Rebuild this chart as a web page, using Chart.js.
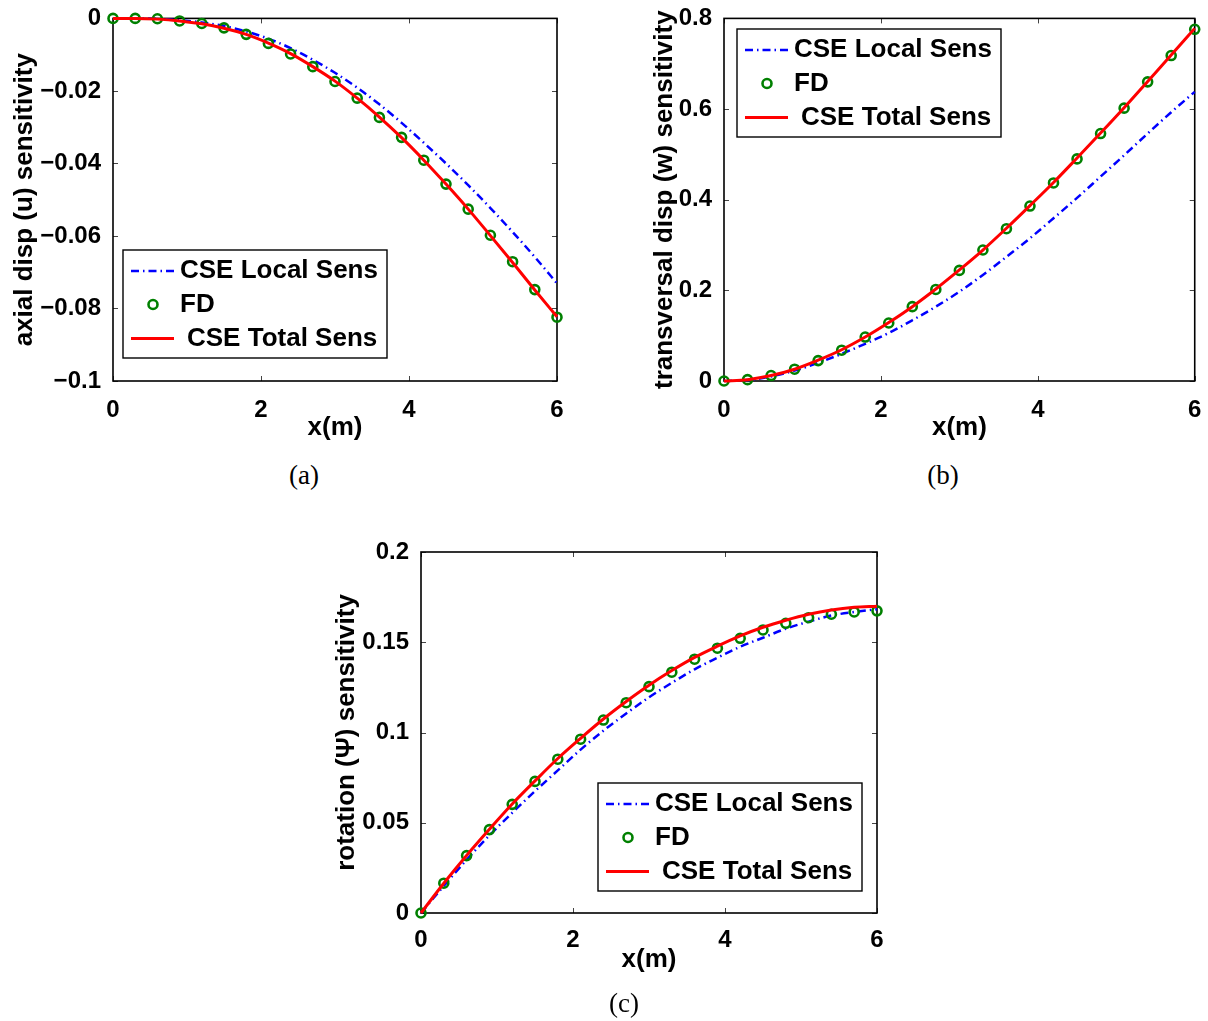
<!DOCTYPE html>
<html>
<head>
<meta charset="utf-8">
<script src="https://cdn.jsdelivr.net/npm/chart.js@4.4.1/dist/chart.umd.min.js"></script>
<style>
  body { margin:0; background:#fff; }
  #page { position:relative; width:1208px; height:1021px; overflow:hidden; }
  canvas { position:absolute; }
  .cap { position:absolute; font-family:"Liberation Serif","DejaVu Serif",serif; font-size:27px; line-height:30px; transform:translate(-50%,-50%); color:#000; }
</style>
</head>
<body>
<div id="page">
  <canvas id="chartA" width="600" height="450" style="left:0;top:0"></canvas>
  <canvas id="chartB" width="608" height="450" style="left:600px;top:0"></canvas>
  <canvas id="chartC" width="600" height="500" style="left:300px;top:520px"></canvas>
  <div class="cap" style="left:304px;top:475px">(a)</div>
  <div class="cap" style="left:943px;top:475px">(b)</div>
  <div class="cap" style="left:624px;top:1003px">(c)</div>
</div>
<script>
// x positions along the beam (m)
const xs = [0,0.3,0.6,0.9,1.2,1.5,1.8,2.1,2.4,2.7,3.0,3.3,3.6,3.9,4.2,4.5,4.8,5.1,5.4,5.7,6.0];

// (a) axial disp (u)
const localA = [0,0,-0.0001,-0.0005,-0.0011,-0.0021,-0.0036,-0.0056,-0.0082,-0.0114,-0.0150,-0.0191,-0.0237,-0.0288,-0.0343,-0.0400,-0.0460,-0.0523,-0.0589,-0.0658,-0.0731];
const fdA    = [0,0,-0.0001,-0.0007,-0.0014,-0.0026,-0.0044,-0.0069,-0.0098,-0.0133,-0.0174,-0.0220,-0.0273,-0.0328,-0.0391,-0.0457,-0.0526,-0.0598,-0.0671,-0.0748,-0.0824];
const totalA = [0,0,-0.0002,-0.0007,-0.0015,-0.0027,-0.0044,-0.0068,-0.0097,-0.0133,-0.0173,-0.0220,-0.0272,-0.0329,-0.0391,-0.0457,-0.0526,-0.0599,-0.0673,-0.0749,-0.0823];

// (b) transversal disp (w)
const localB = [0,0.002,0.010,0.023,0.040,0.060,0.082,0.106,0.134,0.164,0.197,0.234,0.274,0.315,0.359,0.404,0.451,0.498,0.546,0.593,0.638];
const fdB    = [0,0.003,0.012,0.026,0.045,0.068,0.097,0.128,0.164,0.202,0.244,0.289,0.336,0.386,0.437,0.490,0.546,0.602,0.660,0.718,0.776];
const totalB = [0,0.003,0.012,0.026,0.046,0.069,0.097,0.129,0.164,0.203,0.245,0.289,0.337,0.387,0.438,0.492,0.547,0.603,0.661,0.719,0.778];

// (c) rotation (Psi)
const localC = [0,0.0150,0.0295,0.0430,0.0555,0.0675,0.0790,0.0905,0.1010,0.1105,0.1195,0.1275,0.1350,0.1414,0.1475,0.1525,0.1575,0.1614,0.1648,0.1668,0.1683];
const fdC    = [0,0.0165,0.0318,0.0462,0.0602,0.0729,0.0852,0.0963,0.1069,0.1165,0.1254,0.1334,0.1406,0.1467,0.1522,0.1568,0.1605,0.1636,0.1655,0.1668,0.1674];
const totalC = [0,0.0165,0.0319,0.0464,0.0604,0.0732,0.0856,0.0968,0.1075,0.1172,0.1262,0.1343,0.1416,0.1478,0.1535,0.1583,0.1622,0.1655,0.1679,0.1694,0.1700];

// ticks
const xTicks = [0,2,4,6];
const xTickLabels = ['0','2','4','6'];
const yTicksA = [-0.1,-0.08,-0.06,-0.04,-0.02,0];
const yTickLabelsA = ['\u22120.1','\u22120.08','\u22120.06','\u22120.04','\u22120.02','0'];
const yTicksB = [0,0.2,0.4,0.6,0.8];
const yTickLabelsB = ['0','0.2','0.4','0.6','0.8'];
const yTicksC = [0,0.05,0.1,0.15,0.2];
const yTickLabelsC = ['0','0.05','0.1','0.15','0.2'];

const seriesNames = ['CSE Local Sens','FD','CSE Total Sens'];

const FONT = '"Liberation Sans", Arial, Helvetica, sans-serif';
Chart.defaults.font.family = FONT;
Chart.defaults.color = '#000';

// box around the axes + inward ticks on all four sides (MATLAB style)
const frame = {
  id: 'frame',
  beforeDatasetsDraw(chart){
    const {ctx, chartArea:a, scales:{x, y}} = chart;
    ctx.save();
    ctx.strokeStyle = '#444';
    ctx.lineWidth = 1;
    ctx.beginPath();
    x.ticks.forEach(t=>{
      const p = Math.round(x.getPixelForValue(t.value)) + 0.5;
      ctx.moveTo(p, a.bottom); ctx.lineTo(p, a.bottom-5);
      ctx.moveTo(p, a.top); ctx.lineTo(p, a.top+5);
    });
    y.ticks.forEach(t=>{
      const p = Math.round(y.getPixelForValue(t.value)) + 0.5;
      ctx.moveTo(a.left, p); ctx.lineTo(a.left+5, p);
      ctx.moveTo(a.right, p); ctx.lineTo(a.right-5, p);
    });
    ctx.stroke();
    ctx.strokeStyle = '#000';
    ctx.lineWidth = 1.6;
    ctx.strokeRect(a.left, a.top, a.right-a.left, a.bottom-a.top);
    ctx.restore();
  }
};

// MATLAB-like boxed legend
const boxLegend = {
  id: 'boxLegend',
  afterDraw(chart, args, o){
    const ctx = chart.ctx;
    const ds = chart.data.datasets;
    const w = 264, h = 108;
    ctx.save();
    ctx.fillStyle = '#fff';
    ctx.fillRect(o.x, o.y, w, h);
    ctx.strokeStyle = '#000';
    ctx.lineWidth = 1.4;
    ctx.strokeRect(o.x, o.y, w, h);
    const rows = [o.y+21, o.y+54.5, o.y+88.5];
    // local sens sample
    ctx.strokeStyle = ds[0].borderColor; ctx.lineWidth = ds[0].borderWidth;
    ctx.setLineDash(ds[0].borderDash);
    ctx.beginPath(); ctx.moveTo(o.x+8, rows[0]); ctx.lineTo(o.x+51, rows[0]); ctx.stroke();
    ctx.setLineDash([]);
    // FD marker
    ctx.strokeStyle = ds[1].borderColor; ctx.lineWidth = ds[1].pointBorderWidth;
    ctx.beginPath(); ctx.arc(o.x+30, rows[1], ds[1].pointRadius, 0, Math.PI*2); ctx.stroke();
    // total sens sample
    ctx.strokeStyle = ds[2].borderColor; ctx.lineWidth = ds[2].borderWidth;
    ctx.beginPath(); ctx.moveTo(o.x+8, rows[2]); ctx.lineTo(o.x+51, rows[2]); ctx.stroke();
    ctx.fillStyle = '#000';
    ctx.font = 'bold 26px ' + FONT;
    ctx.textBaseline = 'middle';
    ctx.textAlign = 'left';
    ctx.fillText(ds[0].label, o.x+57, rows[0]);
    ctx.fillText(ds[1].label, o.x+57, rows[1]);
    ctx.fillText(ds[2].label, o.x+64, rows[2]);
    ctx.restore();
  }
};

const pts = arr => xs.map((x,i)=>({x, y:arr[i]}));

function makeChart(id, c){
  const tickFont = {size:24, weight:'bold'};
  const titleFont = {size:26, weight:'bold', lineHeight:1.2};
  return new Chart(document.getElementById(id), {
    type:'line',
    data:{ datasets:[
      { label:seriesNames[0], data:pts(c.local), borderColor:'#0000ff', borderWidth:2.5,
        borderDash:[8,4,1.5,4], pointRadius:0, cubicInterpolationMode:'monotone', order:3, clip:false },
      { label:seriesNames[1], data:pts(c.fd), showLine:false, borderColor:'#008000',
        pointBorderColor:'#008000', pointBackgroundColor:'rgba(0,0,0,0)', pointRadius:4.5,
        pointBorderWidth:2.6, order:2, clip:false },
      { label:seriesNames[2], data:pts(c.total), borderColor:'#ff0000', borderWidth:3,
        pointRadius:0, cubicInterpolationMode:'monotone', order:1, clip:false }
    ]},
    options:{
      responsive:false, animation:false,
      layout:{ padding:{ left:0, top:c.T, right:c.W-c.R, bottom:0 } },
      plugins:{ legend:{display:false}, tooltip:{enabled:false}, boxLegend:c.legend },
      scales:{
        x:{ type:'linear', min:0, max:6,
          grid:{display:false}, border:{display:false},
          afterBuildTicks: s => { s.ticks = xTicks.map(v=>({value:v})); },
          ticks:{ font:tickFont, color:'#000', autoSkip:false, maxRotation:0,
            padding:c.xTickY - c.B - 14.4, callback:(v,i)=>xTickLabels[i] },
          title:{ display:true, text:'x(m)', font:titleFont, color:'#000',
            padding:{top:0, bottom:c.H - c.xTitleY - 15.6} },
          afterFit: s => { s.height = c.H - c.B; }
        },
        y:{ type:'linear', min:c.yTicks[0], max:c.yTicks[c.yTicks.length-1],
          grid:{display:false}, border:{display:false},
          afterBuildTicks: s => { s.ticks = c.yTicks.map(v=>({value:v})); },
          ticks:{ font:tickFont, color:'#000', autoSkip:false, padding:4,
            callback:(v,i)=>c.yLabels[i] },
          title:{ display:true, text:c.yTitle, font:titleFont, color:'#000',
            padding:{top:c.yTitleX - 15.6, bottom:0} },
          afterFit: s => { s.width = c.L; }
        }
      }
    },
    plugins:[frame, boxLegend]
  });
}

makeChart('chartA', { local:localA, fd:fdA, total:totalA,
  yTicks:yTicksA, yLabels:yTickLabelsA, yTitle:'axial disp (u) sensitivity',
  W:600, H:450, L:113, T:18, R:557, B:381, yTitleX:25, xTitleY:428, xTickY:402,
  legend:{x:123, y:250} });

makeChart('chartB', { local:localB, fd:fdB, total:totalB,
  yTicks:yTicksB, yLabels:yTickLabelsB, yTitle:'transversal disp (w) sensitivity',
  W:608, H:450, L:124, T:18, R:596, B:381, yTitleX:65, xTitleY:428, xTickY:402,
  legend:{x:137, y:29} });

makeChart('chartC', { local:localC, fd:fdC, total:totalC,
  yTicks:yTicksC, yLabels:yTickLabelsC, yTitle:'rotation (\u03A8) sensitivity',
  W:600, H:500, L:121, T:32, R:577, B:393, yTitleX:47, xTitleY:440, xTickY:412.5,
  legend:{x:298, y:263} });
</script>
</body>
</html>
